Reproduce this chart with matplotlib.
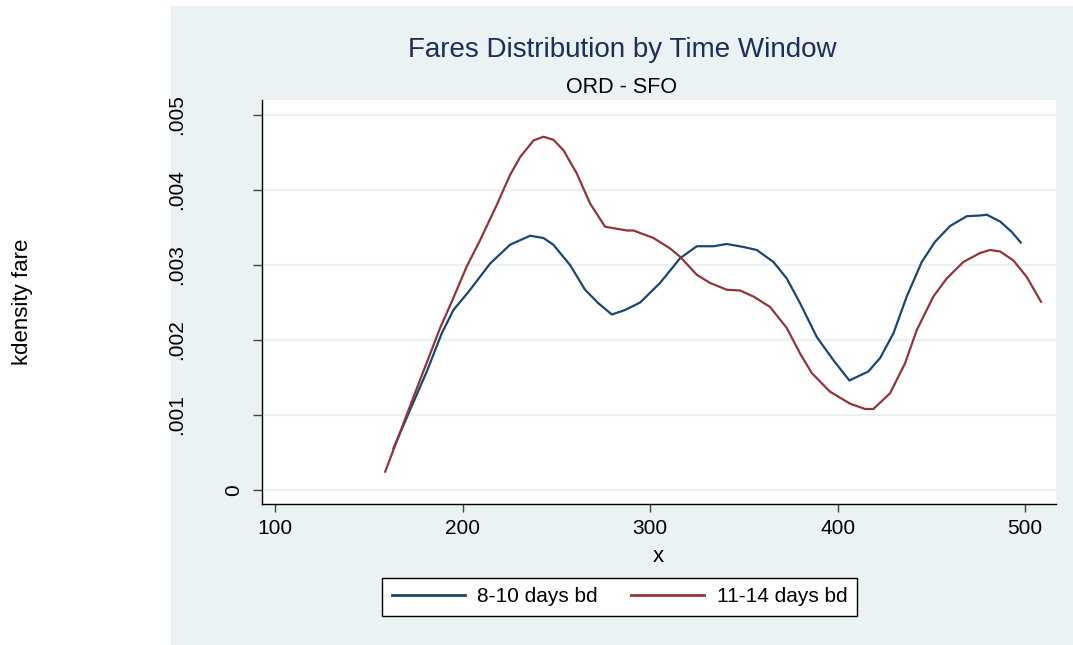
import matplotlib
matplotlib.use('Agg')
import matplotlib.pyplot as plt
from matplotlib.patches import Rectangle

plt.rcParams['font.family'] = ['Liberation Sans', 'DejaVu Sans']

# kdensity of fare, 8-10 days before departure
fare_a = [163.1, 180.9, 188.9, 195.1, 203.1, 214.7, 225.3, 236.0, 243.1, 248.4,
          257.3, 265.3, 272.4, 279.6, 286.7, 294.7, 305.3, 316.0, 324.9, 333.8,
          340.9, 349.8, 356.9, 365.8, 372.9, 380.0, 388.9, 397.8, 406.3, 416.4,
          422.7, 429.8, 436.9, 444.9, 452.0, 460.0, 468.9, 476.0, 479.6, 486.7,
          492.9, 497.7]
dens_a = [.000556, .00158, .00209, .00240, .00264, .00302, .00327, .00339, .00336, .00327,
          .00300, .00267, .00249, .00234, .00240, .00250, .00276, .00309, .00325, .00325,
          .00328, .00324, .00320, .00304, .00282, .00249, .00204, .00173, .00146, .00158,
          .00176, .00209, .00258, .00304, .00331, .00352, .00365, .00366, .00367, .00358,
          .00344, .00330]

# kdensity of fare, 11-14 days before departure
fare_b = [158.7, 173.8, 188.0, 194.2, 202.2, 209.3, 218.2, 225.3, 230.7, 237.8,
          243.1, 248.4, 253.8, 260.9, 268.0, 276.0, 287.6, 291.1, 301.8, 310.7,
          316.0, 324.9, 332.0, 340.9, 348.0, 355.1, 364.0, 372.9, 380.0, 386.2,
          396.0, 406.7, 414.7, 419.1, 428.0, 436.0, 442.2, 451.1, 458.2, 467.1,
          476.0, 481.3, 486.7, 493.8, 500.9, 508.5]
dens_b = [.000244, .00124, .00216, .00251, .00298, .00333, .00380, .00420, .00444, .00466,
          .00471, .00467, .00453, .00422, .00382, .00351, .00346, .00346, .00336, .00322,
          .00311, .00287, .00276, .00267, .00266, .00258, .00244, .00216, .00182, .00156,
          .00131, .00115, .00108, .00108, .00129, .00169, .00213, .00258, .00282, .00304,
          .00316, .00320, .00318, .00306, .00284, .00251]

series_labels = ['8-10 days bd', '11-14 days bd']
xticks = [100, 200, 300, 400, 500]
yticks = [0, .001, .002, .003, .004, .005]
ytick_labels = ['0', '.001', '.002', '.003', '.004', '.005']

navy = '#1a476f'
maroon = '#90353b'
bg = '#eaf2f3'

fig = plt.figure(figsize=(10.73, 6.45), dpi=100, facecolor='white')
fig.patches.append(Rectangle((171 / 1073, 0), 1 - 171 / 1073, 1 - 6 / 645,
                             transform=fig.transFigure, facecolor=bg,
                             edgecolor='none', zorder=-10))

ax = fig.add_axes([262 / 1073, 1 - 504 / 645, (1056 - 262) / 1073, (504 - 100) / 645])
ax.set_facecolor('white')

ax.plot(fare_a, dens_a, color=navy, lw=1.6, label=series_labels[0])
ax.plot(fare_b, dens_b, color=maroon, lw=1.6, label=series_labels[1])

ax.set_xlim(93, 516.5)
ax.set_ylim(-0.000187, 0.0052)
ax.set_xticks(xticks)
ax.set_yticks(yticks)
ax.yaxis.grid(True, color=bg, lw=1.6)
ax.set_axisbelow(True)

for s in ['top', 'right']:
    ax.spines[s].set_visible(False)
for s in ['left', 'bottom']:
    ax.spines[s].set_color('black')
    ax.spines[s].set_linewidth(1.0)

ax.tick_params(axis='x', length=6, width=1, color='#444444', labelsize=15, pad=5)
ax.tick_params(axis='y', length=6.5, width=1, color='#444444', labelleft=False)

# Stata-style rotated y labels
for v, lab in zip(yticks, ytick_labels):
    dx = 85 if len(lab) > 1 else 28.5
    ax.annotate(lab, xy=(0, v), xycoords=('axes fraction', 'data'),
                xytext=(-dx, 0), textcoords='offset pixels',
                rotation=90, ha='center', va='center', fontsize=15)

fig.text(622 / 1073, 1 - 57 / 645, 'Fares Distribution by Time Window',
         ha='center', va='baseline', fontsize=20, color='#1c2e5a')
fig.text(622 / 1073, 1 - 93 / 645, 'ORD - SFO',
         ha='center', va='baseline', fontsize=15.5, color='black')
fig.text(658 / 1073, 1 - 557 / 645, 'x', ha='center', va='center', fontsize=16)
fig.text(22.5 / 1073, 1 - 302 / 645, 'kdensity fare', ha='center', va='center',
         rotation=90, fontsize=16)

leg = fig.legend(loc='center', bbox_to_anchor=(619.5 / 1073, 1 - 597 / 645),
                 ncol=2, fontsize=15, frameon=True, fancybox=False, framealpha=1,
                 edgecolor='black', handlelength=3.5, handletextpad=0.6,
                 columnspacing=1.6, borderpad=0.45)
leg.get_frame().set_linewidth(1.0)
for line in leg.get_lines():
    line.set_linewidth(2.0)

fig.savefig('out.png', dpi=100, facecolor=fig.get_facecolor())
